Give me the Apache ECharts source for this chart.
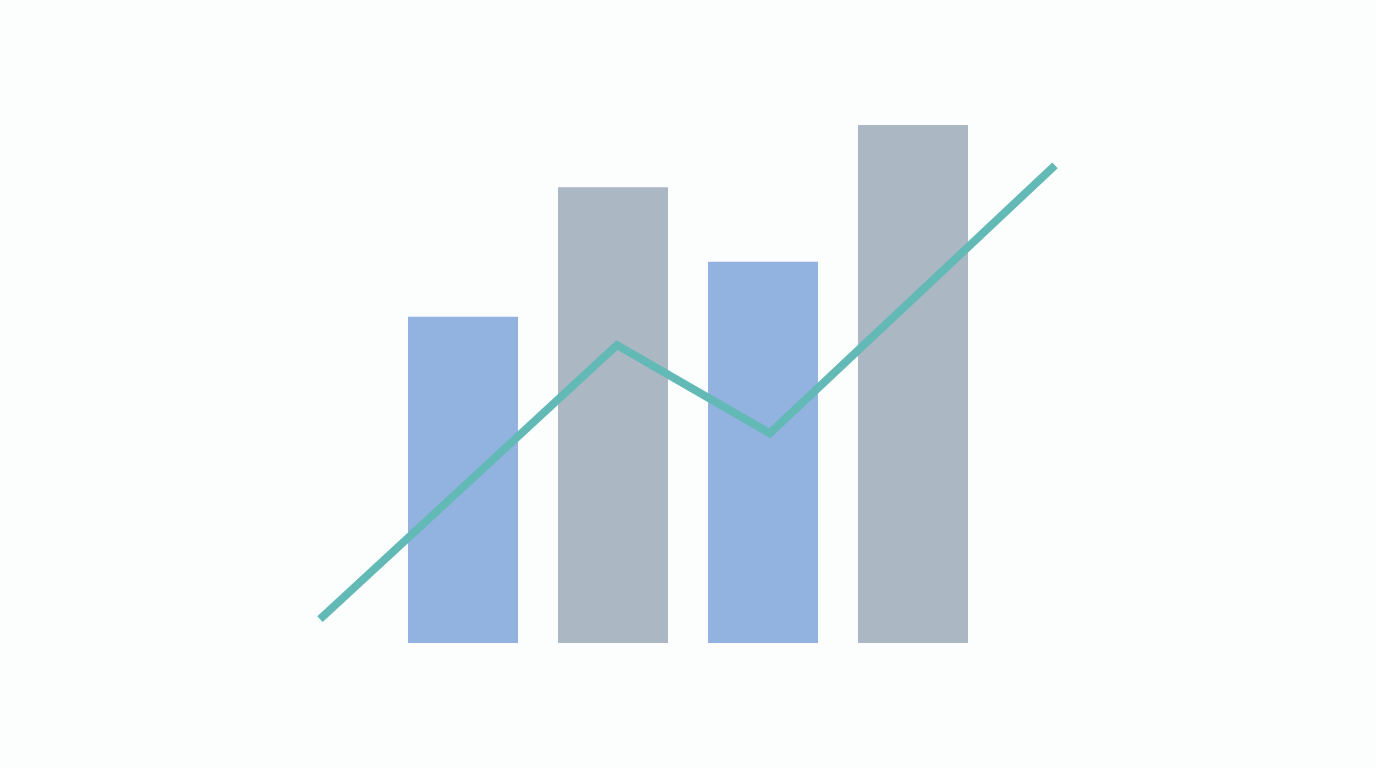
<!DOCTYPE html>
<html>
    <head>
        <title>echarts</title>
        <meta http-equiv="content-type" content="text/html; charset=utf-8">
        <style type="text/css">
            html,
            body {
                height: 100%;
                width: 100%;
                background: #fcfdfd;
                margin: 0;
            }
            #echarts {
                width: 100%;
                height: 100%;
            }
        </style>
    </head>
    <body>
        <div id="echarts"></div>
        <script src="https://cdn.jsdelivr.net/npm/echarts@6/dist/echarts.min.js"></script>
        <script>
            // bars
            let categories = ['A', 'B', 'C', 'D'];
            let barValues = [63, 88, 73.6, 100];
            let barColors = ['#92b3e0', '#acb7c4', '#92b3e0', '#acb7c4'];
            // trend line (x position, value)
            let lineX = [0, 40.4, 61.2, 100];
            let lineY = [4.6, 57.5, 40.5, 92.2];

            let myChart = echarts.init(document.getElementById('echarts'));
            let option = {
                backgroundColor: '#fcfdfd',
                animation: false,
                grid: [
                    { left: 388, width: 600, top: 125, bottom: 125 },
                    { left: 320, width: 735, top: 125, bottom: 125 }
                ],
                xAxis: [
                    { type: 'category', gridIndex: 0, data: categories, show: false },
                    { type: 'value', gridIndex: 1, min: 0, max: 100, show: false }
                ],
                yAxis: [
                    { type: 'value', gridIndex: 0, min: 0, max: 100, show: false },
                    { type: 'value', gridIndex: 1, min: 0, max: 100, show: false }
                ],
                series: [
                    {
                        type: 'bar',
                        xAxisIndex: 0,
                        yAxisIndex: 0,
                        barWidth: 110,
                        data: barValues.map((v, i) => ({ value: v, itemStyle: { color: barColors[i] } }))
                    },
                    {
                        type: 'line',
                        xAxisIndex: 1,
                        yAxisIndex: 1,
                        z: 5,
                        symbol: 'none',
                        lineStyle: { color: '#62b9b5', width: 8, cap: 'butt', join: 'miter' },
                        data: lineX.map((x, i) => [x, lineY[i]])
                    }
                ]
            };
            myChart.setOption(option);
        </script>
    </body>
</html>
